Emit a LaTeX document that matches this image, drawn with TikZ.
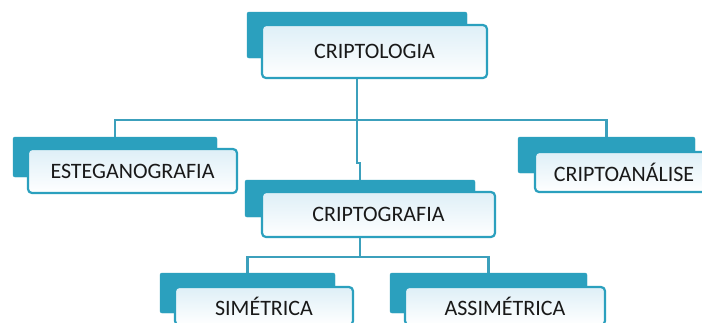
\documentclass[tikz,border=0pt]{standalone}
\usepackage{fontspec}
\setmainfont{Carlito}
\usetikzlibrary{positioning, backgrounds}

\definecolor{boxteal}{RGB}{43,160,190}
\definecolor{lineteal}{RGB}{60,160,188}
\definecolor{frontblue}{RGB}{222,239,247}

\begin{document}
\begin{tikzpicture}[x=1pt,y=-1pt]
	\tikzstyle{shadowbox} = [fill=boxteal, draw=boxteal, rounded corners=2pt, inner sep=0pt]
	\tikzstyle{topic} = [draw=boxteal, line width=2.2pt, rounded corners=4pt, top color=frontblue, bottom color=white, inner sep=0pt, text=black!90, font=\fontsize{22}{26}\selectfont]
	\tikzstyle{link} = [draw=lineteal, line width=2.6pt]

	\useasboundingbox (0,0) rectangle (702,322);
	\clip (0,0) rectangle (702,322);

	% top level
	\node[shadowbox, minimum width=220pt, minimum height=46pt] (criptologiabg) at (357,35) {};
	\node[topic, minimum width=225pt, minimum height=53pt] (criptologia) at (374.5,51.5) {CRIPTOLOGIA};

	% second level
	\node[shadowbox, minimum width=204pt, minimum height=40pt] (esteganografiabg) at (115,157) {};
	\node[topic, minimum width=209pt, minimum height=44pt] (esteganografia) at (132.5,171) {ESTEGANOGRAFIA};
	\node[shadowbox, minimum width=177pt, minimum height=36pt] (criptoanalisebg) at (606.5,155) {};
	\node[topic, minimum width=178pt, minimum height=40pt] (criptoanalise) at (624,172) {CRIPTOANÁLISE};
	\node[shadowbox, minimum width=230pt, minimum height=37pt] (criptografiabg) at (360,198.5) {};
	\node[topic, minimum width=233pt, minimum height=45pt] (criptografia) at (378.5,214.5) {CRIPTOGRAFIA};

	% third level
	\node[shadowbox, minimum width=175pt, minimum height=40pt] (simetricabg) at (247.5,293) {};
	\node[topic, minimum width=178pt, minimum height=38pt] (simetrica) at (264,306) {SIMÉTRICA};
	\node[shadowbox, minimum width=197pt, minimum height=40pt] (assimetricabg) at (488.5,293) {};
	\node[topic, minimum width=200pt, minimum height=38pt] (assimetrica) at (505,306) {ASSIMÉTRICA};

	\coordinate (bus) at (357,120);
	\coordinate (subbus) at (360,257);

	\begin{scope}[on background layer]
		\fill[white] (0,0) rectangle (702,322);
		\draw[link] (criptologiabg.center) -- (bus) -| (esteganografiabg.north);
		\draw[link] (bus) -| (criptoanalisebg.north);
		\draw[link] (bus) -- ++(0,43) -| (criptografiabg.north);
		\draw[link] (criptografiabg.center) -- (subbus) -| (simetricabg.north);
		\draw[link] (subbus) -| (assimetricabg.north);
	\end{scope}
\end{tikzpicture}
\end{document}
